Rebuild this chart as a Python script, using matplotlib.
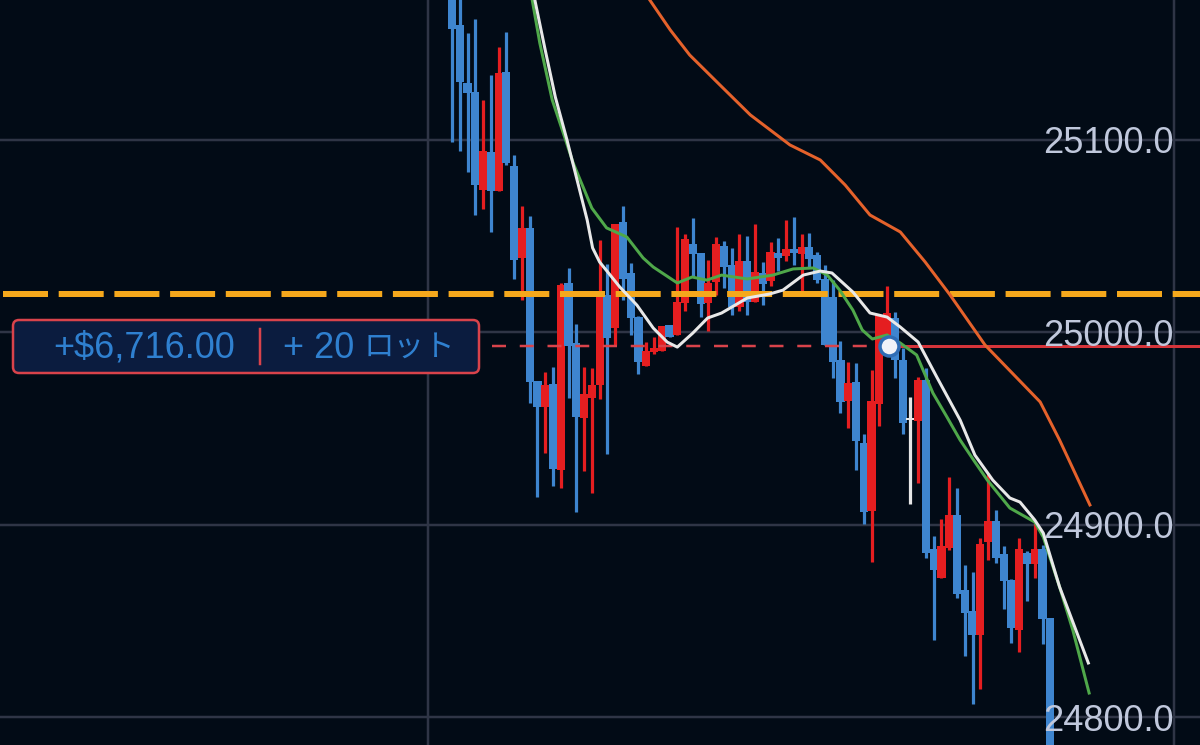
import matplotlib
matplotlib.use("Agg")
import matplotlib.pyplot as plt
from matplotlib.patches import FancyBboxPatch

plt.rcParams["font.family"] = ["Liberation Sans", "Noto Sans CJK JP"]

# candles, one value per bar
opens = [25185, 25159.5, 25129.4, 25124.7, 25073.8, 25093.5, 25073.3, 25135.1, 25086.3, 25038.5,
         25054.1, 24974.6, 24961.1, 24973.0, 24928.3, 25025.5, 24994.3, 24955.4, 24965.7, 24972.5,
         25019.3, 25002.1, 25057.2, 25030.7, 25007.8, 24982.4, 24989.6, 24990.2, 25003.7, 24998.5,
         25015.1, 25045.7, 25041.1, 25015.1, 25026.0, 25044.7, 25034.8, 25013.0, 25036.9, 25015.6,
         25030.7, 25026.5, 25041.1, 25039.5, 25043.1, 25040.5, 25044.2, 25040.0, 25027.6, 25018.2,
         24985.5, 24964.2, 24974.0, 24942.4, 24907.0, 24962.6, 24994.3, 25007.3, 24985.5, 24955.4,
         24953.8, 24975.1, 24887.3, 24872.2, 24887.8, 24905.0, 24866.0, 24855.1, 24842.6, 24890.9,
         24901.9, 24884.7, 24871.2, 24845.2, 24885.2, 24879.5, 24887.3, 24851.4]
highs = [25190, 25185, 25155.4, 25162.6, 25120.6, 25133.5, 25148.1, 25155.9, 25092.0, 25065.5,
         25060.3, 24974.6, 24979.2, 24981.8, 25025.5, 25033.3, 25004.2, 24981.8, 24981.3, 25047.8,
         25035.4, 25056.1, 25065.5, 25035.9, 25008.3, 24994.8, 24997.4, 25003.1, 25003.7, 25054.6,
         25050.9, 25059.3, 25041.1, 25037.4, 25049.4, 25047.3, 25043.7, 25050.9, 25049.9, 25056.1,
         25036.4, 25046.8, 25048.9, 25058.2, 25059.8, 25050.9, 25051.4, 25041.6, 25034.8, 25027.0,
         24995.4, 24984.4, 24983.9, 24947.0, 24980.3, 25008.9, 25023.9, 25010.4, 24991.7, 24966.3,
         24976.6, 24981.3, 24894.0, 24902.9, 24924.7, 24919.0, 24879.0, 24875.4, 24893.0, 24926.8,
         24907.6, 24888.9, 24871.7, 24893.0, 24886.3, 24900.8, 24889.4, 24851.4]
lows = [25098.7, 25094.1, 25083.1, 25060.8, 25063.9, 25052.0, 25073.3, 25086.8, 25027.6, 25016.6,
        24963.1, 24914.3, 24937.2, 24920.0, 24919.0, 24965.7, 24906.5, 24927.8, 24916.4, 24965.2,
        24936.7, 24993.3, 25016.6, 24998.5, 24978.2, 24982.4, 24988.6, 24990.2, 24997.4, 24998.5,
        25010.9, 25029.1, 25007.8, 25000.5, 25019.3, 25022.9, 25008.9, 25010.9, 25008.9, 25015.6,
        25014.0, 25023.9, 25031.7, 25036.9, 25034.8, 25021.3, 25033.8, 25025.5, 24993.3, 24976.1,
        24958.0, 24950.2, 24928.3, 24900.3, 24880.5, 24951.2, 24994.3, 24976.1, 24947.0, 24910.7,
        24921.6, 24882.6, 24840.0, 24872.2, 24886.8, 24861.8, 24831.7, 24806.8, 24814.6, 24881.6,
        24880.0, 24856.1, 24838.5, 24833.8, 24860.3, 24872.2, 24837.9, 24755]
closes = [25157.4, 25129.9, 25124.2, 25076.4, 25094.1, 25073.3, 25134.6, 25087.8, 25037.4, 25054.1,
          24974.0, 24961.1, 24972.5, 24928.9, 25024.4, 24992.8, 24955.9, 24967.8, 24972.5, 25020.3,
          24996.9, 25056.1, 25027.6, 25007.3, 24984.4, 24990.2, 24991.7, 25003.1, 24997.4, 25015.6,
          25048.3, 25040.5, 25014.6, 25025.5, 25045.7, 25033.8, 25013.0, 25036.9, 25015.6, 25031.2,
          25025.0, 25041.6, 25038.5, 25043.1, 25041.1, 25044.2, 25038.0, 25027.0, 24993.3, 24984.4,
          24963.7, 24973.5, 24943.4, 24906.5, 24964.2, 25008.9, 25009.9, 24985.5, 24952.8, 24954.3,
          24975.1, 24885.2, 24876.4, 24888.9, 24905.0, 24863.9, 24854.0, 24842.6, 24889.9, 24901.9,
          24882.6, 24870.7, 24846.3, 24887.3, 24879.5, 24887.3, 24850.9, 24760]

# moving averages
white_idx = [10.4, 12.0, 13.3, 14.8, 16.1, 17.4, 18.1, 19.0, 21.6, 23.8, 25.9, 27.7, 29.0, 31.0, 32.9,
             34.7, 38.0, 40.9, 42.6, 45.2, 47.4, 48.9, 51.6, 53.8, 56.0, 57.7, 60.0, 62.4, 65.4,
             67.3, 69.6, 71.8, 73.1, 75.0, 76.1, 78.2, 81.9]
white_ma = [25177.7, 25146.5, 25122.1, 25099.8, 25079.0, 25058.2, 25043.7, 25036.4, 25023.4, 25014.0,
            25002.1, 24994.8, 24992.2, 24999.5, 25007.3, 25009.9, 25017.7, 25019.8, 25021.8, 25029.6,
            25031.7, 25030.7, 25020.8, 25009.9, 25007.8, 25002.6, 24994.8, 24976.6, 24954.3,
            24936.1, 24923.1, 24913.8, 24911.7, 24902.4, 24895.6, 24867.6, 24828.1]
green_idx = [10.1, 11.3, 12.9, 14.5, 15.6, 18.0, 19.9, 22.5, 24.6, 25.9, 29.0, 30.9, 32.8, 34.7, 38.0,
             41.3, 43.9, 46.5, 48.3, 49.9, 51.6, 52.8, 54.1, 56.0, 57.7, 59.8, 61.9, 63.7, 65.4,
             67.3, 68.9, 71.8, 75.0, 76.1, 78.2, 79.9, 82.0]
green_ma = [25177.7, 25150.2, 25120.6, 25101.3, 25087.8, 25064.4, 25054.1, 25049.4, 25038.5, 25033.8,
            25025.5, 25028.6, 25027.0, 25029.6, 25027.6, 25029.6, 25032.8, 25033.3, 25029.6, 25021.8,
            25011.4, 25001.1, 24996.4, 24998.5, 24994.3, 24988.1, 24968.3, 24955.9, 24943.9,
            24932.5, 24923.1, 24908.6, 24901.3, 24893.5, 24867.6, 24845.2, 24812.5]
orange_idx = [25.2, 28.1, 30.6, 34.5, 38.4, 43.5, 47.4, 50.6, 53.8, 57.7, 60.9, 64.1, 68.6, 75.7, 78.2, 82.1]
orange_ma = [25174.0, 25156.9, 25143.9, 25128.3, 25112.8, 25097.2, 25089.4, 25076.4, 25060.8, 25052.0,
             25036.4, 25019.3, 24993.3, 24963.7, 24943.9, 24910.2]

price_ticks = [24800, 24900, 25000, 25100]
price_labels = ["24800.0", "24900.0", "25000.0", "25100.0"]
level_price = 25019.8
entry_price = 24992.8
entry_idx = 56.2

BG = "#020B16"
BLUE = "#3E85CF"
RED = "#E51E20"
GRID = "#2F3546"
PX = 0.72  # one pixel in points at dpi 100

fig = plt.figure(figsize=(12, 7.45), dpi=100, facecolor=BG)
ax = fig.add_axes([0, 0, 1, 1], facecolor=BG)
ax.set_xlim(-58.17, 96.27)
ax.set_ylim(24785.5, 25172.5)
for s in ax.spines.values():
    s.set_visible(False)
ax.set_axisbelow(False)

ax.hlines(price_ticks, -58.17, 96.27, color=GRID, lw=2.5 * PX, zorder=0.5)
ax.axvline(-3.09, color=GRID, lw=2.5 * PX, zorder=0.5)
ax.axvline(92.9, color=GRID, lw=2.5 * PX, zorder=0.5)

for i in range(len(opens)):
    if abs(closes[i] - opens[i]) < 1.5:
        col = "#E6E6E6"
    elif closes[i] > opens[i]:
        col = RED
    else:
        col = BLUE
    z = 1 + i * 0.001
    ax.vlines(i, lows[i], highs[i], color=col, lw=3.2 * PX, capstyle="butt", zorder=z)
    ax.bar(i, abs(closes[i] - opens[i]), bottom=min(opens[i], closes[i]), width=1.05,
           color=col, linewidth=0, zorder=z)

# key level and the open position
ax.plot([-57.8, 96.27], [level_price, level_price], color="#F5A81C", lw=6 * PX,
        linestyle=(0, (45 * PX / (6 * PX), 10.7 * PX / (6 * PX))), dash_capstyle="butt", zorder=1.5)
ax.plot([5.2, entry_idx], [entry_price, entry_price], color="#D9434B", lw=2.5 * PX,
        linestyle=(0, (5.6, 5.5)), dash_capstyle="butt", zorder=1.6)
ax.plot([entry_idx, 96.27], [entry_price, entry_price], color="#D5343A", lw=3 * PX, zorder=1.6)

ax.plot(orange_idx, orange_ma, color="#E5622B", lw=3 * PX, zorder=1.7)
ax.plot(green_idx, green_ma, color="#4FA84A", lw=3 * PX, zorder=1.8)
ax.plot(white_idx, white_ma, color="#E8E8E8", lw=3 * PX, zorder=1.9)

ax.scatter([entry_idx], [entry_price], s=(19 * PX) ** 2, color="#F0F2F8",
           edgecolor="#2F6DB5", linewidth=3.5 * PX, zorder=2)

ax.set_xticks([])
ax.set_yticks(price_ticks)
ax.set_yticklabels(price_labels, fontsize=26, color="#C0C8DC")
ax.tick_params(axis="y", length=0, labelleft=False, labelright=True, pad=-113)

# profit label, placed in figure fractions
W, H = 1200.0, 745.0
box = FancyBboxPatch((13 / W, 1 - 373 / H), 466 / W, 53 / H, transform=fig.transFigure,
                     boxstyle="round,pad=0,rounding_size=0.005", mutation_aspect=W / H,
                     facecolor="#0B1C3F", edgecolor="#D9434B", linewidth=2.5 * PX, zorder=5)
fig.add_artist(box)
fig.add_artist(plt.Line2D([260 / W, 260 / W], [1 - 329 / H, 1 - 364 / H], color="#D9434B",
                          lw=2.5 * PX, zorder=6))
fig.text(53 / W, 1 - 348 / H, "+$6,716.00", color="#2F80D0", fontsize=26, va="center", zorder=6)
fig.text(283 / W, 1 - 348 / H, "+ 20", color="#2F80D0", fontsize=26, va="center", zorder=6)
fig.text(364 / W, 1 - 348 / H, "ロット", color="#2F80D0", fontsize=22, va="center", zorder=6)

fig.savefig("out.png", dpi=100, facecolor=BG)
